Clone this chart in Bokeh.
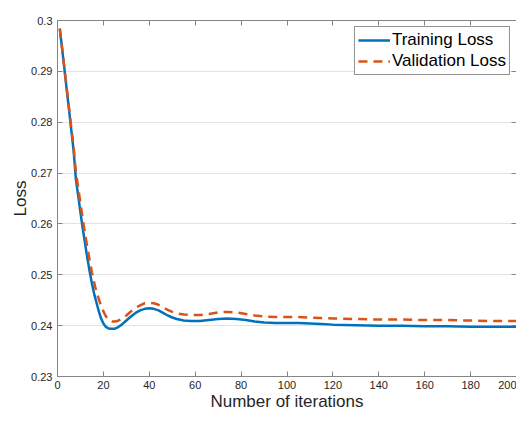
from bokeh.plotting import figure
from bokeh.models import LinearAxis, FixedTicker, Range1d, Legend, LegendItem, CustomJSTickFormatter
from bokeh.embed import file_html
from bokeh.resources import INLINE

# ---- data ----
train_iter = [1, 2, 3, 4, 5, 6, 7, 8, 9, 10, 11, 12, 13, 14, 15, 16, 17, 18, 19, 20,
              21, 22, 23, 24, 25, 26, 28, 30, 32, 34, 36, 38, 40, 42, 44, 46, 48, 50,
              52, 55, 58, 62, 66, 70, 74, 78, 82, 86, 90, 95, 100, 105, 110, 115, 120,
              130, 140, 150, 160, 170, 180, 190, 200]
train_loss = [0.2984, 0.2945, 0.2905, 0.2865, 0.2825, 0.2785, 0.2745, 0.2688, 0.2656,
              0.2623, 0.2591, 0.2562, 0.2533, 0.2507, 0.2483, 0.2462, 0.2445, 0.2428,
              0.2414, 0.2404, 0.2398, 0.2395, 0.2394, 0.23938, 0.2394, 0.2396, 0.2402,
              0.2410, 0.2418, 0.2425, 0.2430, 0.2433, 0.2434, 0.2433, 0.2430, 0.2425,
              0.2420, 0.2416, 0.2413, 0.2410, 0.2409, 0.2409, 0.2411, 0.2413, 0.2414,
              0.2413, 0.2411, 0.2408, 0.2406, 0.2405, 0.2405, 0.2405, 0.2404, 0.2403,
              0.2402, 0.2401, 0.2400, 0.2400, 0.2399, 0.2399, 0.2398, 0.2398, 0.2398]

val_iter = train_iter
val_loss = [0.2984, 0.2946, 0.2907, 0.2868, 0.2829, 0.2790, 0.2752, 0.2703, 0.2672,
            0.2641, 0.2610, 0.2581, 0.2554, 0.2528, 0.2505, 0.2484, 0.2466, 0.2452,
            0.2439, 0.2428, 0.2419, 0.2413, 0.2410, 0.2408, 0.2408, 0.2409, 0.2413,
            0.2420, 0.2428, 0.2435, 0.2440, 0.2444, 0.2445, 0.2444, 0.2441, 0.2436,
            0.2431, 0.2427, 0.2424, 0.2422, 0.2421, 0.2421, 0.2423, 0.2426, 0.2427,
            0.2426, 0.2423, 0.2420, 0.2418, 0.2417, 0.2417, 0.2417, 0.2416, 0.2415,
            0.2414, 0.2413, 0.2412, 0.2412, 0.2411, 0.2411, 0.2410, 0.2409, 0.2409]

x_ticks = [0, 20, 40, 60, 80, 100, 120, 140, 160, 180, 200]
y_ticks = [0.23, 0.24, 0.25, 0.26, 0.27, 0.28, 0.29, 0.30]
y_tick_labels = ["0.23", "0.24", "0.25", "0.26", "0.27", "0.28", "0.29", "0.3"]

# ---- style ----
FONT = "Liberation Sans"
TXT = "#262626"
AXC = "#858585"
BLUE = "#0072BD"
ORANGE = "#D95319"

p = figure(width=516, height=413, output_backend="svg", toolbar_location=None,
           x_range=Range1d(0, 200), y_range=Range1d(0.23, 0.30),
           min_border_left=57, min_border_right=0, min_border_top=20,
           min_border_bottom=0, x_axis_label="Number of iterations",
           y_axis_label="Loss")
p.outline_line_color = None
p.background_fill_color = "white"
p.border_fill_color = "white"

r1 = p.line(train_iter, train_loss, line_color=BLUE, line_width=2.5)
r2 = p.line(val_iter, val_loss, line_color=ORANGE, line_width=2.5, line_dash="9 6")

p.xgrid.visible = False
p.ygrid.ticker = FixedTicker(ticks=y_ticks)
p.ygrid.grid_line_color = "#e3e3e3"
p.ygrid.grid_line_width = 1

def style_axis(ax, ticks, labels=True):
    ax.ticker = FixedTicker(ticks=ticks)
    ax.axis_line_color = AXC
    ax.axis_line_width = 1
    ax.major_tick_line_color = AXC
    ax.major_tick_in = 5
    ax.major_tick_out = 0
    ax.minor_tick_in = 0
    ax.minor_tick_out = 0
    ax.major_label_text_font = FONT
    ax.major_label_text_color = TXT
    ax.major_label_text_font_size = "11px"
    ax.major_label_standoff = 5 if labels else 0
    ax.axis_label_text_font = FONT
    ax.axis_label_text_color = TXT
    ax.axis_label_text_font_size = "17px"
    ax.axis_label_text_font_style = "normal"
    if not labels:
        ax.formatter = CustomJSTickFormatter(code="return ''")

style_axis(p.xaxis[0], x_ticks)
p.xaxis[0].major_label_standoff = 4
p.xaxis[0].axis_label_standoff = 0
style_axis(p.yaxis[0], y_ticks)
p.yaxis[0].major_label_overrides = {t: l for t, l in zip(y_ticks, y_tick_labels)}
p.yaxis[0].axis_label_standoff = -2

top = LinearAxis()
style_axis(top, x_ticks, labels=False)
p.add_layout(top, "above")
right = LinearAxis()
style_axis(right, y_ticks, labels=False)
p.add_layout(right, "right")

legend = Legend(items=[LegendItem(label="Training Loss", renderers=[r1]),
                       LegendItem(label="Validation Loss", renderers=[r2])],
                location="top_right")
legend.margin = 6
legend.padding = 3
legend.spacing = 1
legend.glyph_width = 32
legend.glyph_height = 18
legend.label_standoff = 2
legend.label_height = 18
legend.label_text_font = FONT
legend.label_text_font_size = "17px"
legend.label_text_color = "black"
legend.border_line_color = "#262626"
legend.border_line_width = 1
legend.background_fill_color = "white"
legend.background_fill_alpha = 1
p.add_layout(legend, "center")

open("out.html", "w").write(file_html(p, INLINE))
